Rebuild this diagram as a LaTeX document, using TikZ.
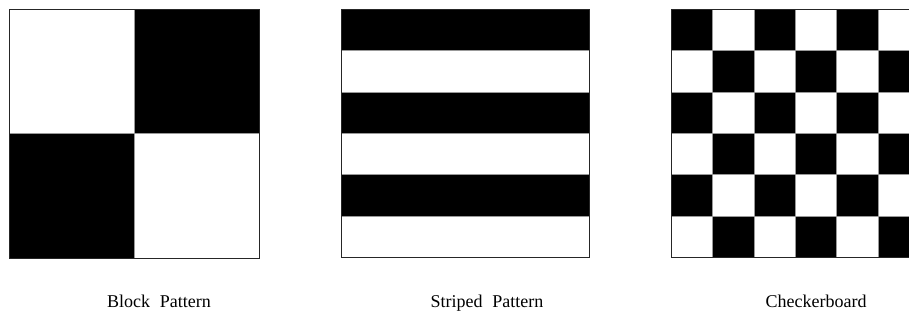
\documentclass[tikz,border=0pt]{standalone}
\usepackage{fontspec}
\setmainfont{Liberation Serif}
\usepackage{tikz}
\newcommand{\cellw}{41.4}
\newcommand{\gap}{\hspace{0.55em}}

\begin{document}
\begin{tikzpicture}[
    x=1pt, y=-1pt,
    cellline/.style={draw=black!40, line width=0.6pt},
    frame/.style={draw=black!85, line width=0.8pt},
    caption/.style={font=\fontsize{18}{20}\selectfont, anchor=base, inner sep=0pt}
]
\useasboundingbox (0,0) rectangle (909,324);

% block pattern
\fill[black] (134,9) rectangle (259,133);
\fill[black] (9,133) rectangle (134,258);
\draw[cellline] (134,9) -- (134,258) (9,133) -- (259,133);
\draw[frame] (9,9) rectangle (259,258);

% striped pattern
\foreach \i in {0,2,4}
    \fill[black] (341,{9+\cellw*\i}) rectangle (589,{9+\cellw*(\i+1)});
\foreach \i in {1,...,5}
    \draw[cellline] (341,{9+\cellw*\i}) -- (589,{9+\cellw*\i});
\draw[frame] (341,9) rectangle (589,257);

% checkerboard, cut by the right edge
\begin{scope}
\clip (660,0) rectangle (909,270);
\foreach \r in {0,...,5}
    \foreach \c in {0,...,5} {
        \pgfmathtruncatemacro{\odd}{mod(\r+\c,2)}
        \ifnum\odd=0
            \fill[black] ({671+\cellw*\c},{9+\cellw*\r}) rectangle ({671+\cellw*(\c+1)},{9+\cellw*(\r+1)});
        \fi
    }
\foreach \i in {1,...,5} {
    \draw[cellline] ({671+\cellw*\i},9) -- ({671+\cellw*\i},257);
    \draw[cellline] (671,{9+\cellw*\i}) -- (920,{9+\cellw*\i});
}
\draw[frame] (920,9) -- (671,9) -- (671,257) -- (920,257);
\end{scope}

\node[caption] (blocklbl) at (159,307) {Block\gap Pattern};
\node[caption] (stripelbl) at (487,307) {Striped\gap Pattern};
\node[caption] (checklbl) at (816,307) {Checkerboard};
\end{tikzpicture}
\end{document}
